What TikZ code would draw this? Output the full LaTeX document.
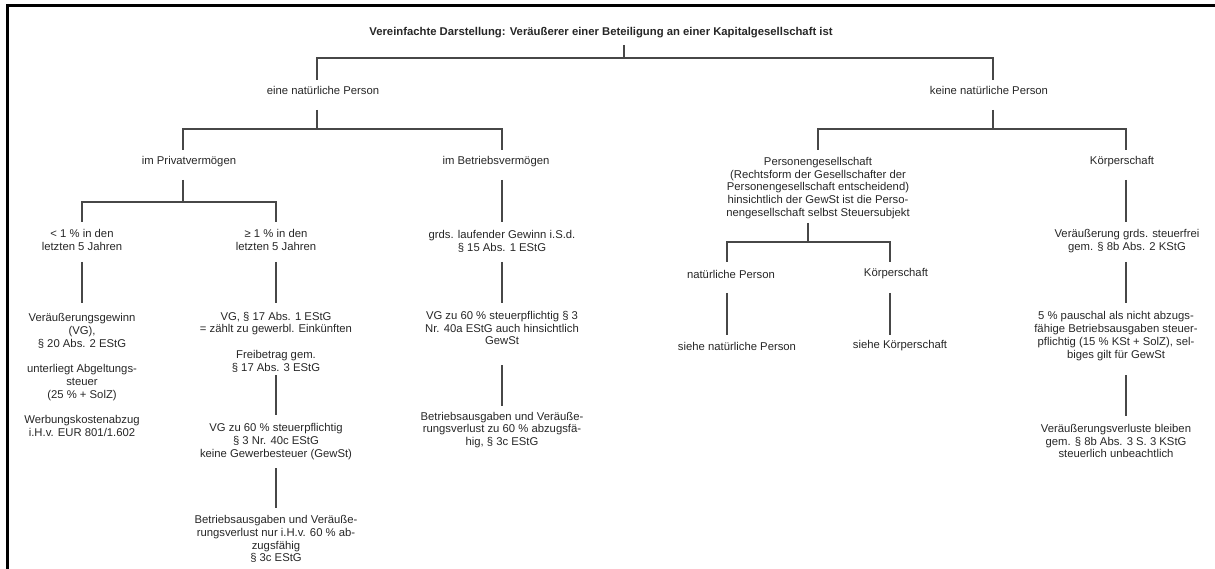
\documentclass[tikz,border=0pt]{standalone}
\usepackage{fontspec}
\setmainfont{Liberation Sans}
\begin{document}
\begin{tikzpicture}[x=1pt,y=-1pt,
  txt/.style={font=\fontsize{11.3}{12.8}\selectfont, align=center, inner sep=0pt, text=black!85},
  conn/.style={draw=black!72, line width=1.3pt},
  frame/.style={draw=black, line width=2.6pt}]
\useasboundingbox (0,0) rectangle (1215,569);
% frame (top and left edge)
\coordinate (frR) at (1216,5.7);
\coordinate (frC) at (7.5,5.7);
\coordinate (frB) at (7.5,570);
\draw[frame] (frR) -- (frC) -- (frB);

% ---------- nodes ----------
\node[txt, font=\fontsize{11.3}{12.8}\selectfont\bfseries] (T) at (601,33) {Vereinfachte Darstellung: Veräußerer einer Beteiligung an einer Kapitalgesellschaft ist};
\node[txt] (NP) at (323,90) {eine natürliche Person};
\node[txt] (KNP) at (989,90) {keine natürliche Person};
\node[txt] (PV) at (189,162) {im Privatvermögen};
\node[txt] (BV) at (496,162) {im Betriebsvermögen};
\node[txt] (PG) at (818,188) {Personengesellschaft\\(Rechtsform der Gesellschafter der\\Personengesellschaft entscheidend)\\hinsichtlich der GewSt ist die Perso-\\nengesellschaft selbst Steuersubjekt};
\node[txt] (KS) at (1122,162) {Körperschaft};
\node[txt] (LT) at (82,240) {< 1 \% in den\\letzten 5 Jahren};
\node[txt] (GE) at (276,240) {≥ 1 \% in den\\letzten 5 Jahren};
\node[txt] (LG) at (82,375) {Veräußerungsgewinn\\(VG),\\§ 20 Abs. 2 EStG\\[12.8pt]unterliegt Abgeltungs-\\steuer\\(25 \% + SolZ)\\[12.8pt]Werbungskostenabzug\\i.H.v. EUR 801/1.602};
\node[txt] (GA) at (276,342) {VG, § 17 Abs. 1 EStG\\= zählt zu gewerbl. Einkünften\\[12.8pt]Freibetrag gem.\\§ 17 Abs. 3 EStG};
\node[txt] (GB) at (276,441.5) {VG zu 60 \% steuerpflichtig\\§ 3 Nr. 40c EStG\\keine Gewerbesteuer (GewSt)};
\node[txt] (GC) at (276,539) {Betriebsausgaben und Veräuße-\\rungsverlust nur i.H.v. 60 \% ab-\\zugsfähig\\§ 3c EStG};
\node[txt] (BA) at (502,241) {grds. laufender Gewinn i.S.d.\\§ 15 Abs. 1 EStG};
\node[txt] (BB) at (502,328) {VG zu 60 \% steuerpflichtig § 3\\Nr. 40a EStG auch hinsichtlich\\GewSt};
\node[txt] (BC) at (502,430) {Betriebsausgaben und Veräuße-\\rungsverlust zu 60 \% abzugsfä-\\hig, § 3c EStG};
\node[txt] (PN) at (731,274) {natürliche Person};
\node[txt] (PK) at (896,274) {Körperschaft};
\node[txt] (SN) at (737,346) {siehe natürliche Person};
\node[txt] (SK) at (900,346) {siehe Körperschaft};
\node[txt] (KA) at (1127,241) {Veräußerung grds. steuerfrei\\gem. § 8b Abs. 2 KStG};
\node[txt] (KB) at (1116,336) {5 \% pauschal als nicht abzugs-\\fähige Betriebsausgaben steuer-\\pflichtig (15 \% KSt + SolZ), sel-\\biges gilt für GewSt};
\node[txt] (KC) at (1116,441) {Veräußerungsverluste bleiben\\gem. § 8b Abs. 3 S. 3 KStG\\steuerlich unbeachtlich};

% ---------- connector end points ----------
\coordinate (Ts) at (624,45);  \coordinate (F0) at (624,58);
\coordinate (NPn) at (317,80); \coordinate (KNPn) at (993,80);
\coordinate (NPs) at (317,110); \coordinate (F1) at (317,129);
\coordinate (PVn) at (183,150); \coordinate (BVn) at (502,150);
\coordinate (KNPs) at (993,110); \coordinate (F2) at (993,129);
\coordinate (PGn) at (818,150); \coordinate (KSn) at (1126,150);
\coordinate (PVs) at (183,180); \coordinate (F3) at (183,202);
\coordinate (LTn) at (82,222); \coordinate (GEn) at (276,222);
\coordinate (LTs) at (82,262); \coordinate (LGn) at (82,303);
\coordinate (GEs) at (276,262); \coordinate (GAn) at (276,303);
\coordinate (GAs) at (276,375); \coordinate (GBn) at (276,415);
\coordinate (GBs) at (276,468); \coordinate (GCn) at (276,508);
\coordinate (BVs) at (502,180); \coordinate (BAn) at (502,222);
\coordinate (BAs) at (502,262); \coordinate (BBn) at (502,303);
\coordinate (BBs) at (502,365); \coordinate (BCn) at (502,406);
\coordinate (PGs) at (808,223); \coordinate (F4) at (808,242);
\coordinate (PNn) at (727,262); \coordinate (PKn) at (890,262);
\coordinate (PNs) at (727,293); \coordinate (SNn) at (727,335);
\coordinate (PKs) at (890,293); \coordinate (SKn) at (890,335);
\coordinate (KSs) at (1126,180); \coordinate (KAn) at (1126,222);
\coordinate (KAs) at (1126,262); \coordinate (KBn) at (1126,303);
\coordinate (KBs) at (1126,375); \coordinate (KCn) at (1126,416);

% ---------- connectors ----------
\draw[conn] (Ts) -- (F0);
\draw[conn] (NPn) |- (F0) -| (KNPn);
\draw[conn] (NPs) -- (F1);
\draw[conn] (PVn) |- (F1) -| (BVn);
\draw[conn] (KNPs) -- (F2);
\draw[conn] (PGn) |- (F2) -| (KSn);
\draw[conn] (PVs) -- (F3);
\draw[conn] (LTn) |- (F3) -| (GEn);
\draw[conn] (LTs) -- (LGn);
\draw[conn] (GEs) -- (GAn);
\draw[conn] (GAs) -- (GBn);
\draw[conn] (GBs) -- (GCn);
\draw[conn] (BVs) -- (BAn);
\draw[conn] (BAs) -- (BBn);
\draw[conn] (BBs) -- (BCn);
\draw[conn] (PGs) -- (F4);
\draw[conn] (PNn) |- (F4) -| (PKn);
\draw[conn] (PNs) -- (SNn);
\draw[conn] (PKs) -- (SKn);
\draw[conn] (KSs) -- (KAn);
\draw[conn] (KAs) -- (KBn);
\draw[conn] (KBs) -- (KCn);
\end{tikzpicture}
\end{document}
